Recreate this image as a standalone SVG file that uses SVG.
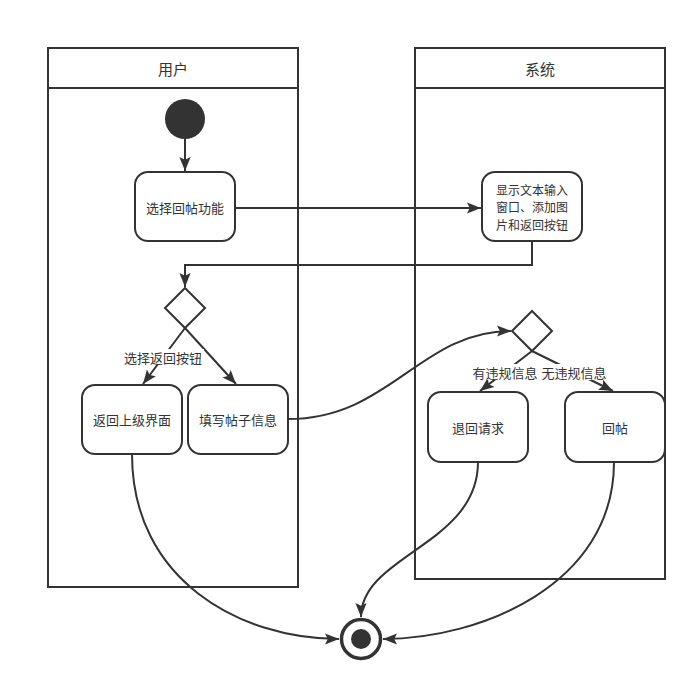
<svg xmlns="http://www.w3.org/2000/svg" width="696" height="690" viewBox="0 0 696 690">
<defs>
<marker id="arrB" viewBox="0 0 10 10" refX="10" refY="5" markerWidth="14" markerHeight="14" markerUnits="userSpaceOnUse" orient="auto">
<path d="M0,1 L10,5 L0,9 L2,5 Z" fill="#333"/>
</marker>
<style>
.lane{fill:#fff;stroke:#333;stroke-width:2}
.box{fill:#fff;stroke:#333;stroke-width:2}
.t{font-family:"Noto Sans CJK SC","Liberation Sans",sans-serif;font-size:13px;fill:#333;text-anchor:middle;dominant-baseline:central}
.h{font-size:15px}
.s{font-size:12px}
.c{fill:none;stroke:#333;stroke-width:2;marker-end:url(#arrB)}
.lb{fill:#fff}
</style>
</defs>
<rect width="696" height="690" fill="#fff"/>
<g id="lane-user">
<rect class="lane" x="48" y="48" width="250" height="539"/>
<line x1="48" y1="88" x2="298" y2="88" stroke="#333" stroke-width="2"/>
<text class="t h" x="173" y="68">用户</text>
</g>
<g id="lane-system">
<rect class="lane" x="415" y="48" width="250" height="531"/>
<line x1="415" y1="88" x2="665" y2="88" stroke="#333" stroke-width="2"/>
<text class="t h" x="540" y="68">系统</text>
</g>
<g id="start"><circle cx="185" cy="119" r="20" fill="#333"/></g>
<g id="n1"><rect class="box" x="135" y="172" width="100" height="69" rx="13"/><text class="t" x="185" y="207">选择回帖功能</text></g>
<g id="n2"><rect class="box" x="482" y="172" width="100" height="69" rx="13"/>
<text class="t s" x="532" y="189">显示文本输入</text><text class="t s" x="532" y="206.5">窗口、添加图</text><text class="t s" x="532" y="224">片和返回按钮</text></g>
<g id="d1"><path d="M185,288 L205,308 L185,328 L165,308 Z" fill="#fff" stroke="#333" stroke-width="2"/></g>
<g id="n3"><rect class="box" x="82" y="385" width="100" height="69" rx="13"/><text class="t" x="132" y="419">返回上级界面</text></g>
<g id="n4"><rect class="box" x="188" y="385" width="100" height="69" rx="13"/><text class="t" x="238" y="419">填写帖子信息</text></g>
<g id="d2"><path d="M532,311 L552,331 L532,351 L512,331 Z" fill="#fff" stroke="#333" stroke-width="2"/></g>
<g id="n5"><rect class="box" x="428" y="392" width="100" height="70" rx="13"/><text class="t" x="478" y="427">退回请求</text></g>
<g id="n6"><rect class="box" x="565" y="392" width="100" height="70" rx="13"/><text class="t" x="615" y="427">回帖</text></g>
<g id="end"><circle cx="361" cy="639" r="19.5" fill="#fff" stroke="#333" stroke-width="3.5"/><circle cx="361" cy="639" r="10" fill="#333"/></g>
<g id="connectors">
<path class="c" d="M185,139 L185,171"/>
<path class="c" d="M235,208 L481,208"/>
<path class="c" d="M532,241 L532,265 L185,265 L185,287"/>
<path class="c" d="M185,328 L143,384"/>
<path class="c" d="M185,328 L236,384"/>
<path class="c" d="M288,419 C390,419 420,331 511,331"/>
<path class="c" d="M532,351 L480,391"/>
<path class="c" d="M532,351 L613,391"/>
<path class="c" d="M132,454 C132,580 240,639 339,639"/>
<path class="c" d="M478,462 C478,545 361,555 361,617"/>
<path class="c" d="M614,462 C614,585 480,639 383,639"/>
<rect class="lb" x="122" y="349" width="82" height="16"/>
<text class="t" x="163" y="357">选择返回按钮</text>
<rect class="lb" x="472" y="364" width="139" height="16"/>
<text class="t" x="505" y="372">有违规信息</text>
<text class="t" x="574" y="372">无违规信息</text>
</g>
</svg>
